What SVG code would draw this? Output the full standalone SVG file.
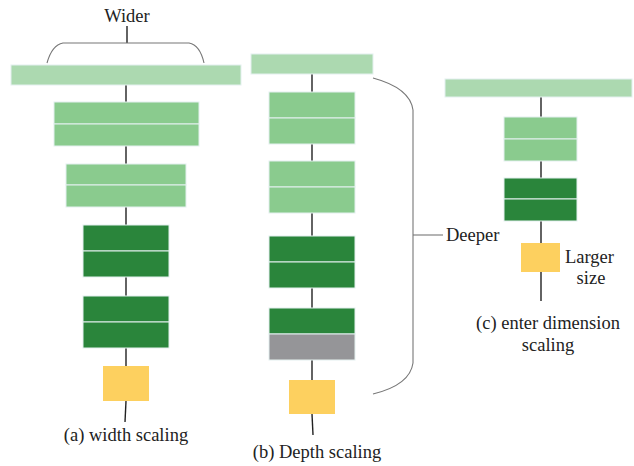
<svg xmlns="http://www.w3.org/2000/svg" width="634" height="466" viewBox="0 0 634 466">
<style>
.lt{fill:#acd9b0;stroke:#e4f0ef;stroke-width:1}
.md{fill:#8acb8e;stroke:#e4f0ef;stroke-width:1}
.dk{fill:#2a853b;stroke:#e4f0ef;stroke-width:1}
.gr{fill:#959598;stroke:#e4f0ef;stroke-width:1}
.yl{fill:#fdd05f;stroke:none}
.ln{stroke:#222;stroke-width:1.4;fill:none}
.br{stroke:#777;stroke-width:1.1;fill:none}
.t{font-family:'Liberation Serif','Times New Roman',serif;font-size:18.5px;fill:#222}
</style>
<rect width="634" height="466" fill="#fff"/>
<g id="connectors">
<line class="ln" x1="126" y1="85" x2="126" y2="103"/>
<line class="ln" x1="126" y1="146" x2="126" y2="164"/>
<line class="ln" x1="126" y1="207" x2="126" y2="225"/>
<line class="ln" x1="126" y1="277" x2="126" y2="296"/>
<line class="ln" x1="126" y1="348" x2="126" y2="366"/>
<line class="ln" x1="126" y1="401" x2="125" y2="422"/>
<line class="ln" x1="312" y1="74" x2="312" y2="92"/>
<line class="ln" x1="312" y1="144" x2="312" y2="161"/>
<line class="ln" x1="312" y1="213" x2="312" y2="236"/>
<line class="ln" x1="312" y1="288" x2="312" y2="308"/>
<line class="ln" x1="312" y1="360" x2="312" y2="380"/>
<line class="ln" x1="312" y1="414" x2="313" y2="435"/>
<line class="ln" x1="541" y1="96" x2="541" y2="117"/>
<line class="ln" x1="541" y1="161" x2="541" y2="178"/>
<line class="ln" x1="541" y1="221" x2="541" y2="243"/>
<line class="ln" x1="541" y1="272" x2="541" y2="301"/>
</g>
<g id="brace-wider">
<line class="ln" x1="127" y1="26" x2="127" y2="43"/>
<path class="br" d="M47,63 Q52,45 63,43 L189,43 Q200,45 204,63"/>
<text class="t" x="127" y="22" text-anchor="middle">Wider</text>
</g>
<g id="a-top"><rect class="lt" x="11" y="65" width="230" height="20"/></g>
<g id="a-b1"><rect class="md" x="54" y="102" width="145" height="22"/><rect class="md" x="54" y="124" width="145" height="22"/></g>
<g id="a-b2"><rect class="md" x="66" y="164" width="120" height="21"/><rect class="md" x="66" y="185" width="120" height="22"/></g>
<g id="a-b3"><rect class="dk" x="83" y="225" width="86" height="26"/><rect class="dk" x="83" y="251" width="86" height="26"/></g>
<g id="a-b4"><rect class="dk" x="83" y="296" width="86" height="26"/><rect class="dk" x="83" y="322" width="86" height="26"/></g>
<g id="a-in"><rect class="yl" x="103" y="366" width="46" height="35"/></g>
<text class="t" x="126" y="441" text-anchor="middle">(a) width scaling</text>
<g id="b-top"><rect class="lt" x="251" y="54" width="122" height="20"/></g>
<g id="b-b1"><rect class="md" x="269" y="92" width="86" height="26"/><rect class="md" x="269" y="118" width="86" height="26"/></g>
<g id="b-b2"><rect class="md" x="269" y="161" width="86" height="26"/><rect class="md" x="269" y="187" width="86" height="26"/></g>
<g id="b-b3"><rect class="dk" x="269" y="236" width="86" height="26"/><rect class="dk" x="269" y="262" width="86" height="26"/></g>
<g id="b-b4"><rect class="dk" x="269" y="308" width="86" height="26"/><rect class="gr" x="269" y="334" width="86" height="26"/></g>
<g id="b-in"><rect class="yl" x="289" y="380" width="46" height="34"/></g>
<text class="t" x="317" y="458" text-anchor="middle">(b) Depth scaling</text>
<g id="bracket-deeper">
<path class="br" d="M373,78 Q410,88 413,110 L413,363 Q410,385 373,394"/>
<line class="br" x1="413" y1="235" x2="443" y2="235" stroke="#333"/>
<text class="t" x="446" y="241">Deeper</text>
</g>
<g id="c-top"><rect class="lt" x="445" y="79" width="187" height="18"/></g>
<g id="c-b1"><rect class="md" x="504" y="117" width="73" height="22"/><rect class="md" x="504" y="139" width="73" height="22"/></g>
<g id="c-b2"><rect class="dk" x="504" y="178" width="73" height="21"/><rect class="dk" x="504" y="199" width="73" height="22"/></g>
<g id="c-in"><rect class="yl" x="521" y="243" width="39" height="29"/></g>
<text class="t" x="565" y="263">Larger</text>
<text class="t" x="591" y="284" text-anchor="middle">size</text>
<text class="t" x="548" y="329" text-anchor="middle">(c) enter dimension</text>
<text class="t" x="548" y="351" text-anchor="middle">scaling</text>
</svg>
